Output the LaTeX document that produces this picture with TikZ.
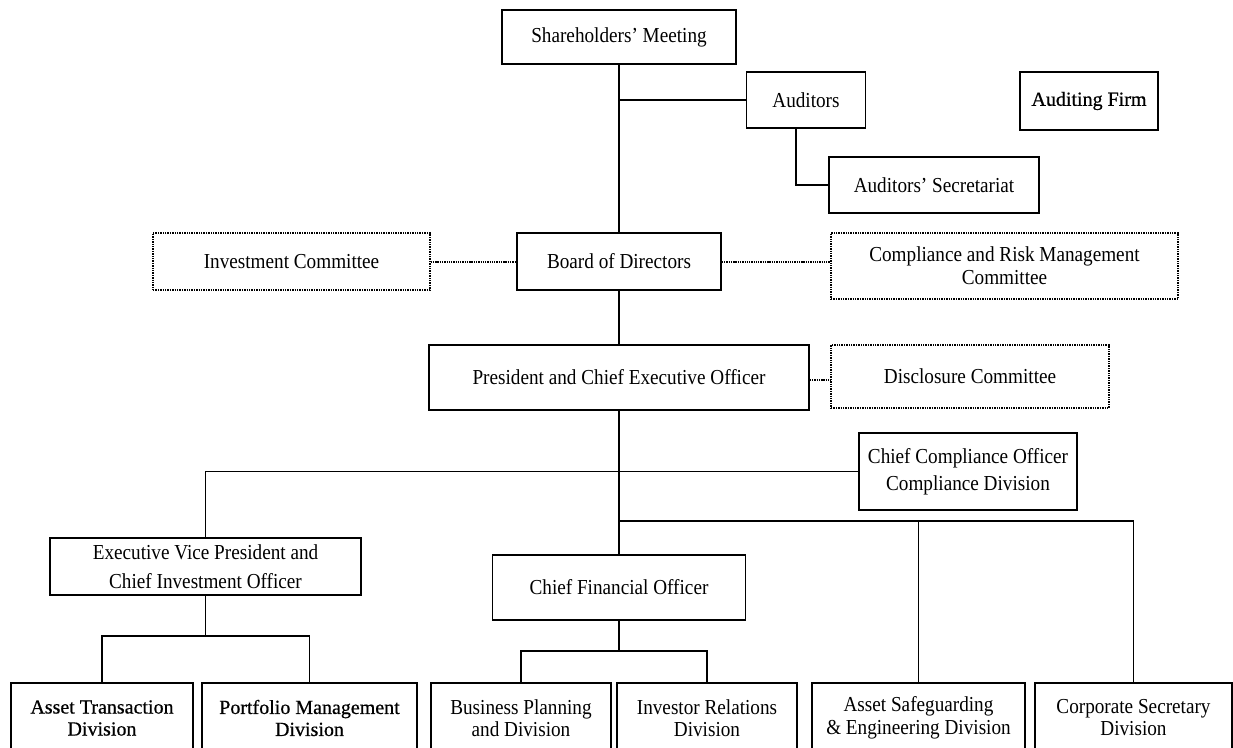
\documentclass[tikz,border=0pt]{standalone}
\usepackage{fontspec}
\setmainfont{Liberation Serif}[FakeStretch=0.9]
\newfontfamily\heavyfont{Liberation Serif}[FakeBold=0.6]
\usetikzlibrary{calc}

\begin{document}
\begin{tikzpicture}
    [x=0.75pt, y=-0.75pt,
    line width=1.3pt,
    sz/.style 2 args={minimum width=#1*0.75pt, minimum height=#2*0.75pt},
    box/.style={draw, align=center, inner sep=0pt, font=\fontsize{16}{20}\selectfont},
    committee/.style={box, line width=1pt, dash pattern=on 1pt off 0.8pt},
    division/.style={box, font=\fontsize{16}{16.5}\selectfont},
    heavy/.style={font=\heavyfont\fontsize{15}{16.5}\selectfont},
    dotlink/.style={line width=1.5pt, dash pattern=on 1pt off 0.7pt}
    ]
    \useasboundingbox (0,0) rectangle (1233,747);
    \clip (0,0) rectangle (1233,747);

    \node (meeting) [box, sz={234}{54}] at (619,37) {Shareholders' Meeting};
    \node (auditors) [box, sz={119}{56}] at (806,100) {Auditors};
    \node (firm) [box, heavy, sz={138}{58}] at (1089,101) {Auditing Firm};
    \node (secretariat) [box, sz={210}{56}] at (934,185) {Auditors' Secretariat};
    \node (board) [box, sz={204}{57}] at (619,261.5) {Board of Directors};
    \node (invest) [committee, sz={277}{57}] at (291.5,261.5) {Investment Committee};
    \node (risk) [committee, sz={347}{66}] at (1004.5,266) {Compliance and Risk Management\\[-3pt]Committee};
    \node (ceo) [box, sz={380}{65}] at (619,377.5) {President and Chief Executive Officer};
    \node (disclosure) [committee, sz={278}{63}] at (970,376.5) {Disclosure Committee};
    \node (cco) [box, sz={218}{77}] at (968,471.5) {Chief Compliance Officer\\Compliance Division};
    \node (evp) [box, sz={311}{57}] at (205.5,566.5) {Executive Vice President and\\[2pt]Chief Investment Officer};
    \node (cfo) [box, sz={253}{65}] at (619,587.5) {Chief Financial Officer};

    % bottom row
    \node (transaction) [division, heavy, sz={182}{70}] at (102,718) {Asset Transaction\\Division};
    \node (portfolio) [division, heavy, sz={215}{70}] at (309.5,718) {Portfolio Management\\Division};
    \node (planning) [division, sz={180}{70}] at (521,718) {Business Planning\\and Division};
    \node (ir) [division, sz={180}{70}] at (707,718) {Investor Relations\\Division};
    \node (safeguard) [division, sz={213}{70}] at (918.5,718) {Asset Safeguarding\\[1pt]\& Engineering Division};
    \node (corpsec) [division, sz={197}{70}] at (1133.5,718) {Corporate Secretary\\Division};

    \coordinate (busbar) at (619,521);
    \coordinate (evpbar) at (205.5,636);
    \coordinate (cfobar) at (619,651);

    \draw (meeting) -- (board);
    \draw (auditors.west) -- (auditors.west -| meeting.south);
    \draw ($(auditors.south west)!0.42!(auditors.south east)$) |- (secretariat.west);
    \draw[dotlink] (invest) -- (board);
    \draw[dotlink] (board.east) -- (board.east -| risk.west);
    \draw (board) -- (ceo);
    \draw[dotlink] ([yshift=-2pt]ceo.east) -- ([yshift=-2pt]ceo.east -| disclosure.west);
    \draw (ceo) -- (cfo);
    \draw (evp.north) |- (cco.west);
    \draw (busbar) -| (corpsec.north);
    \draw (safeguard.north) -- (safeguard.north |- busbar);
    \draw (evp) -- (evpbar);
    \draw (transaction.north) |- (evpbar) -| (portfolio.north);
    \draw (cfo) -- (cfobar);
    \draw (planning.north) |- (cfobar) -| (ir.north);
\end{tikzpicture}
\end{document}
